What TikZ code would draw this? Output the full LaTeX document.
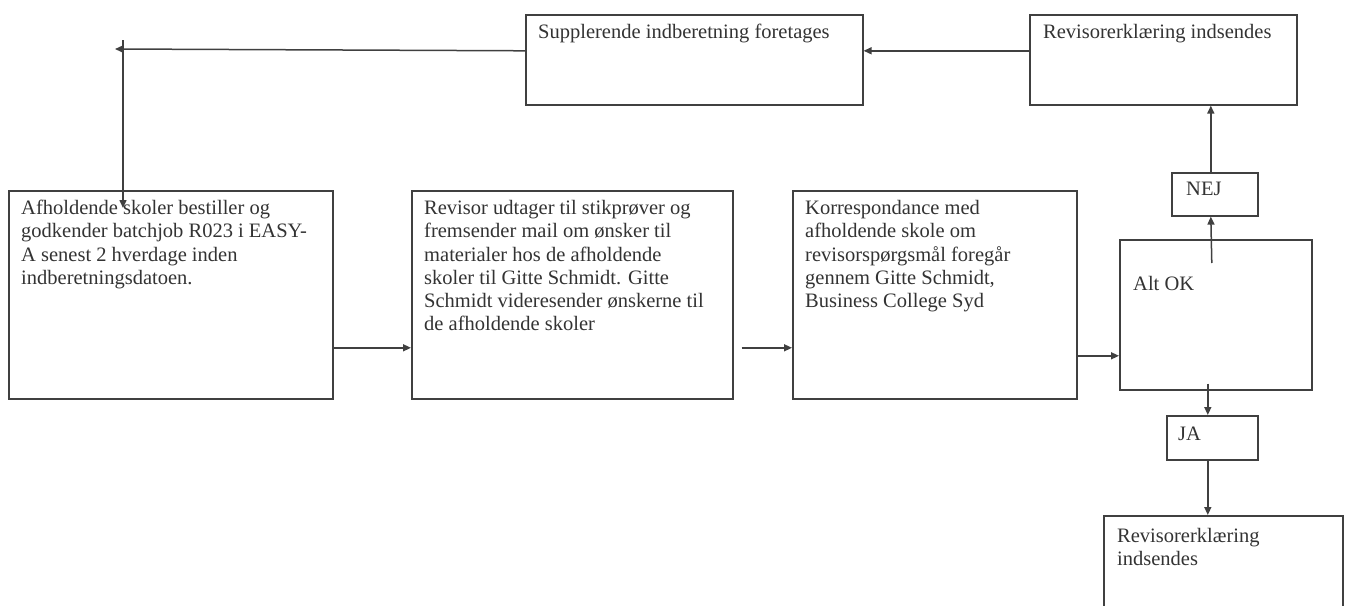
\documentclass[tikz,border=0pt]{standalone}
\usepackage{fontspec}
\setmainfont{Liberation Serif}
\usetikzlibrary{arrows.meta}
\definecolor{ink}{HTML}{333333}
\definecolor{edge}{HTML}{404040}
\tikzset{
  boxnode/.style={draw=edge, line width=1.6pt, rectangle, inner sep=0pt, anchor=north west},
  txt/.style={anchor=north west, align=left, inner sep=0pt, text=ink, font=\fontsize{20.5}{23.3}\selectfont},
  arr/.style={draw=edge, line width=1.5pt, -{Triangle[length=8pt,width=7pt]}}
}
\begin{document}
\begin{tikzpicture}[x=1pt,y=-1pt]
\useasboundingbox (0,0) rectangle (1349,605);
% boxes
\node[boxnode, minimum width=337pt, minimum height=90pt] (Sup) at (525,14) {};
\node[boxnode, minimum width=267pt, minimum height=90pt] (TR) at (1029,14) {};
\node[boxnode, minimum width=324pt, minimum height=208pt] (A) at (8,190) {};
\node[boxnode, minimum width=321pt, minimum height=208pt] (B) at (411,190) {};
\node[boxnode, minimum width=284pt, minimum height=208pt] (C) at (792,190) {};
\node[boxnode, minimum width=192pt, minimum height=150pt] (D) at (1119,239) {};
\node[boxnode, minimum width=86pt, minimum height=43pt] (NEJ) at (1171,172) {};
\node[boxnode, minimum width=91pt, minimum height=44pt] (JA) at (1166,415) {};
\node[boxnode, minimum width=239pt, minimum height=130pt] (Bot) at (1103,515) {};
% texts
\node[txt] (SupT) at (538,24) {Supplerende indberetning foretages};
\node[txt] (TRT) at (1043,24) {Revisorerklæring indsendes};
\node[txt] (AT) at (21,200) {Afholdende skoler bestiller og\\godkender batchjob R023 i EASY-\\A senest 2 hverdage inden\\indberetningsdatoen.};
\node[txt] (BT) at (424,200) {Revisor udtager til stikprøver og\\fremsender mail om ønsker til\\materialer hos de afholdende\\skoler til Gitte Schmidt. Gitte\\Schmidt videresender ønskerne til\\de afholdende skoler};
\node[txt] (CT) at (805,200) {Korrespondance med\\afholdende skole om\\revisorspørgsmål foregår\\gennem Gitte Schmidt,\\Business College Syd};
\node[txt] (DT) at (1133,276) {Alt OK};
\node[txt] (NEJT) at (1186,182) {NEJ};
\node[txt] (JAT) at (1178,427) {JA};
\node[txt] (BotT) at (1117,528) {Revisorerklæring\\indsendes};
% free ends
\coordinate (L1) at (115,49);
\coordinate (L2) at (123,40);
\coordinate (L3) at (123,208);
% connectors
\draw[arr] ([yshift=9pt]TR.west) -- ([yshift=9pt]Sup.east);
\draw[arr] ([yshift=9pt]Sup.west) -- (L1);
\draw[arr] (L2) -- (L3);
\draw[arr] ([yshift=-53pt]A.east) -- ([yshift=-53pt]B.west);
\draw[arr, shorten <=8pt] ([yshift=-53pt]B.east) -- ([yshift=-53pt]C.west);
\draw[arr] ([yshift=-61pt]C.east) -- ([yshift=-61pt]C.east -| D.west);
\draw[arr] ([xshift=-4pt,yshift=-24pt]D.north) -- ([xshift=-4pt]NEJ.south);
\draw[arr] ([xshift=-4pt]NEJ.north) -- ([xshift=-4pt]NEJ.north |- TR.south);
\draw[arr] ([xshift=-8pt,yshift=7pt]D.south) -- ([xshift=-8pt]D.south |- JA.north);
\draw[arr] ([xshift=-8pt]D.south |- JA.south) -- ([xshift=-8pt]D.south |- Bot.north);
\end{tikzpicture}
\end{document}
